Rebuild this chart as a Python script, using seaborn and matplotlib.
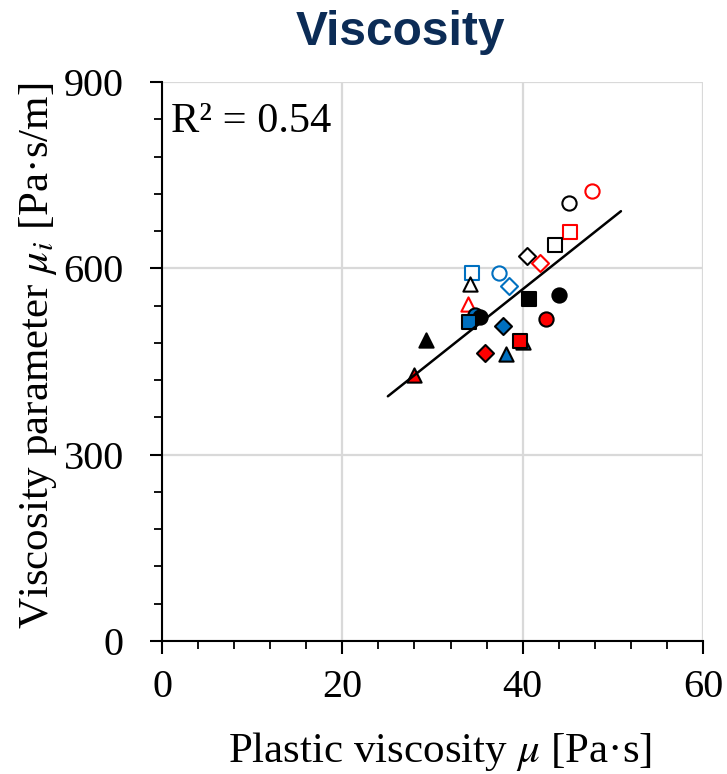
import numpy as np
import pandas as pd
import matplotlib
matplotlib.use("Agg")
import matplotlib.pyplot as plt
import seaborn as sns

# ---- data ----
plastic_visc = [47.7, 45.1, 45.3, 43.6, 40.5, 41.9, 34.4, 37.4, 38.5, 34.2, 33.9,
                40.7, 44.0, 42.6, 34.7, 35.25, 34.0, 37.8, 40.0, 39.7, 38.1, 35.8, 29.3, 28.0]
visc_param = [724, 705, 658, 637, 620, 608, 592, 593, 571, 575, 543,
              550, 557, 519, 525, 521, 513, 507, 481, 483, 462, 463, 484, 429]
colors = ["red", "black", "red", "black", "black", "red", "blue", "blue", "blue", "black", "red",
          "black", "black", "red", "blue", "black", "blue", "blue", "blue", "red", "blue", "red", "black", "red"]
markers = ["o", "o", "s", "s", "D", "D", "s", "o", "D", "^", "^",
           "s", "o", "o", "o", "o", "s", "D", "^", "s", "^", "D", "^", "^"]
filled = [False] * 11 + [True] * 13

# trend line
trend_x = [25.05, 50.9]
trend_y = [394, 692]
r2_text = "R² = 0.54"

palette = {"red": "#FF0000", "blue": "#0070C0", "black": "#000000"}

df = pd.DataFrame({"x": plastic_visc, "y": visc_param, "c": colors, "m": markers, "f": filled})

sns.set_theme(style="whitegrid")
plt.rcParams["font.family"] = ["Liberation Serif", "DejaVu Serif"]
plt.rcParams["mathtext.fontset"] = "stix"
plt.rcParams["text.color"] = "black"
plt.rcParams["axes.labelcolor"] = "black"
plt.rcParams["xtick.color"] = "black"
plt.rcParams["ytick.color"] = "black"

fig = plt.figure(figsize=(7.27, 7.74), dpi=100)
L, R, B, T = 162 / 727, 703 / 727, 1 - 641 / 774, 1 - 82 / 774
ax = fig.add_axes([L, B, R - L, T - B])

msize = {"o": 105, "s": 105, "D": 75, "^": 105}
for i, row in df.iterrows():
    col = palette[row.c]
    if row.f:
        fc, ec = col, "black"
    else:
        fc, ec = "white", col
    sns.scatterplot(x=[row.x], y=[row.y], ax=ax, marker=row.m, s=msize[row.m],
                    color=fc, edgecolor=ec, linewidth=1.5, zorder=3, legend=False)

sns.lineplot(x=trend_x, y=trend_y, ax=ax, color="black", linewidth=1.8, zorder=4)

ax.set_xlim(0, 60)
ax.set_ylim(0, 900)
ax.set_xticks([0, 20, 40, 60])
ax.set_yticks([0, 300, 600, 900])
ax.set_xticks(np.arange(0, 61, 4), minor=True)
ax.set_yticks(np.arange(0, 901, 60), minor=True)
ax.grid(True, which="major", color="#D9D9D9", linewidth=1.6)
ax.grid(False, which="minor")
for s in ["top", "right"]:
    ax.spines[s].set_visible(False)
for s in ["left", "bottom"]:
    ax.spines[s].set_color("black")
    ax.spines[s].set_linewidth(1.5)
ax.tick_params(which="major", direction="out", length=9, width=1.5, color="black",
               labelsize=29, bottom=True, left=True)
ax.tick_params(which="minor", direction="out", length=6, width=1.3, color="black",
               bottom=True, left=True)
ax.tick_params(axis="y", which="major", pad=18.5)
ax.tick_params(axis="x", which="major", pad=11)

ax.set_xlabel(r"Plastic viscosity $\mu$ [Pa·s]", fontsize=31)
ax.xaxis.label.set_va("baseline")
ax.xaxis.set_label_coords(0.514, -0.2165)
ax.set_ylabel(r"Viscosity parameter $\mu_i$ [Pa·s/m]", fontsize=31)
ax.yaxis.label.set_va("center")
ax.yaxis.set_label_coords(-0.229, 0.51)

ax.text(0.016, 0.911, r2_text, transform=ax.transAxes, fontsize=30.5,
        va="baseline", ha="left")

fig.text(400 / 727, 1 - 45 / 774, "Viscosity", ha="center", va="baseline",
         fontsize=34.5, fontweight="bold", color="#0C2C56", family="Liberation Sans")

fig.savefig("out.png", dpi=100)
